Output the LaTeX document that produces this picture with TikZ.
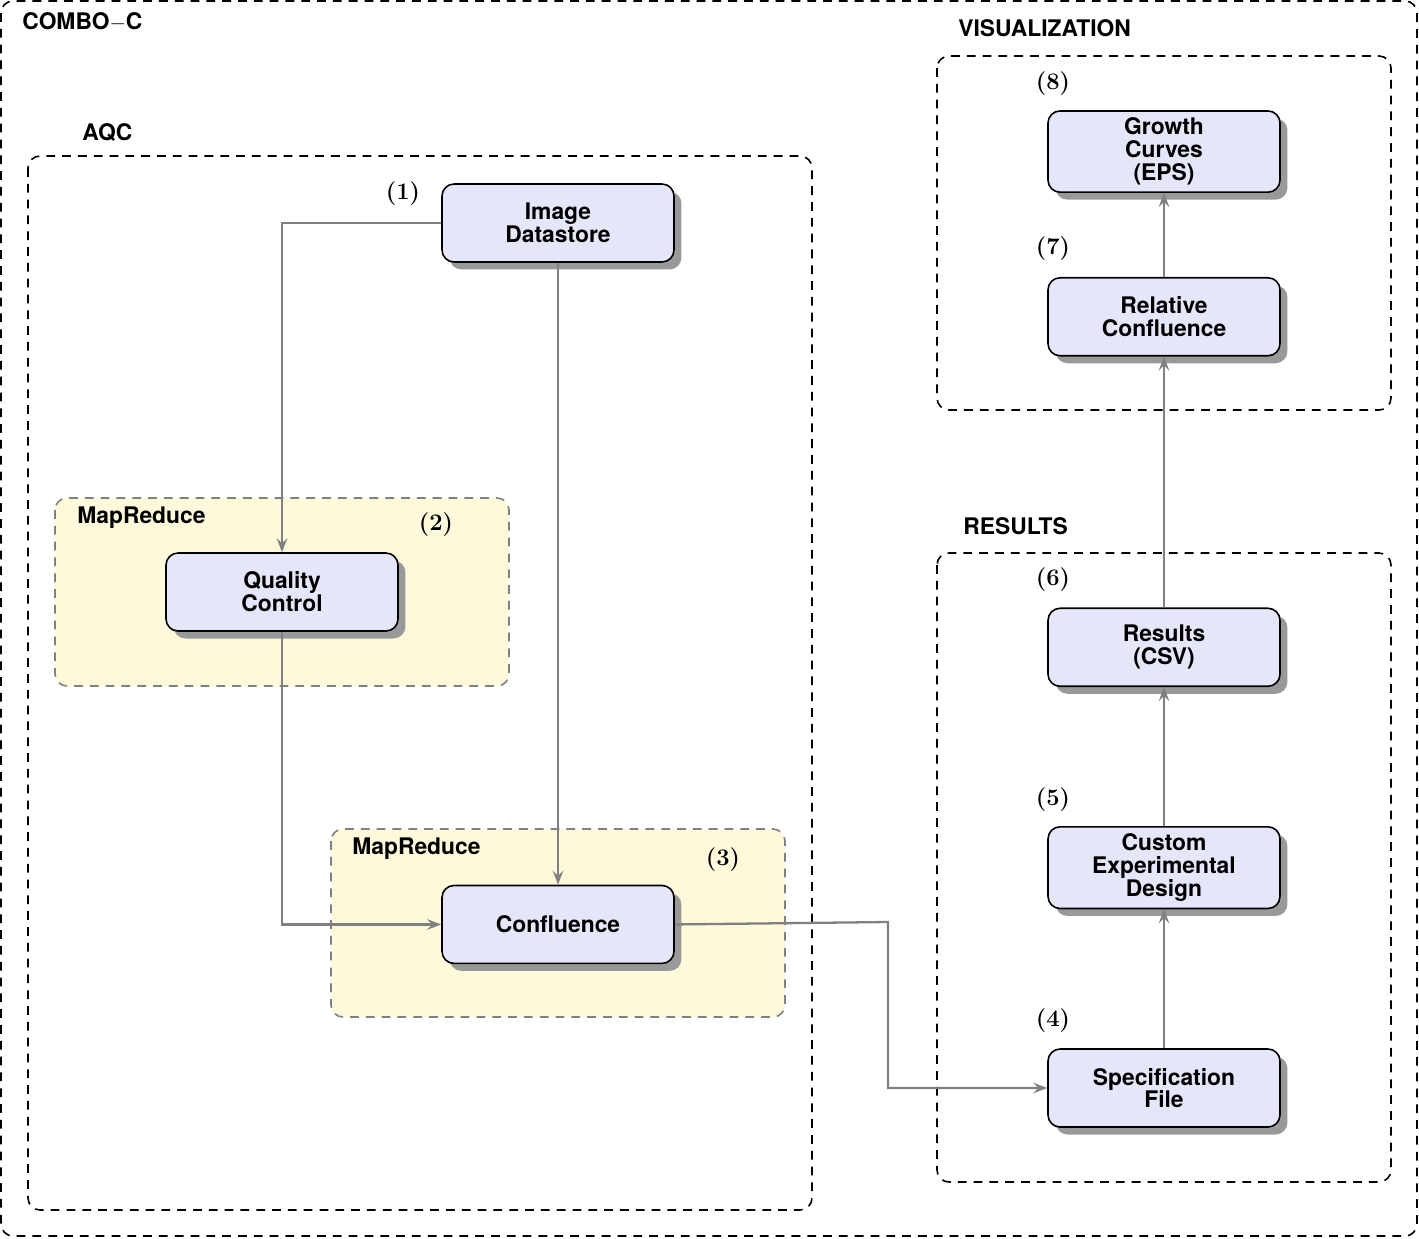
\documentclass[tikz,border=0pt]{standalone}
\usepackage{fontspec}
\setsansfont{TeX Gyre Heros}
\usepackage{tikz}
\usetikzlibrary{positioning,shadows,arrows.meta}

\tikzset{
  step box/.style={draw=black, line width=0.9pt, rounded corners=0.24cm, fill=lavender,
    minimum width=4.64cm, minimum height=1.56cm, align=center, inner sep=4pt,
    font=\sffamily\bfseries\fontsize{13}{13}\selectfont,
    drop shadow={shadow xshift=0.15cm, shadow yshift=-0.15cm, fill=black!40, opacity=1}},
  group box/.style={draw=black, line width=0.9pt, dash pattern=on 5pt off 4pt, rounded corners=0.24cm},
  mr box/.style={draw=black!50, line width=0.9pt, dash pattern=on 5pt off 4pt, rounded corners=0.24cm, fill=mryellow},
  group label/.style={anchor=west, inner sep=0pt, font=\sffamily\bfseries\fontsize{13}{13}\selectfont},
  num label/.style={inner sep=0pt, font=\bfseries\fontsize{13.5}{13.5}\selectfont},
  flow/.style={draw=black!50, line width=1.3pt, -{Stealth[length=8pt,width=6pt,inset=3pt]}}
}
\definecolor{lavender}{HTML}{E6E6FA}
\definecolor{mryellow}{HTML}{FFF9DC}

\begin{document}
\begin{tikzpicture}[x=0.02cm, y=-0.02cm]
  \useasboundingbox (0,0) rectangle (1419,1238);

  % containers
  \draw[group box] (1,1) rectangle (1417,1236);
  \draw[group box] (28,156) rectangle (812,1210);
  \draw[group box] (937,56) rectangle (1391,410);
  \draw[group box] (937,553) rectangle (1391,1182);
  \draw[mr box] (55,498) rectangle (509,686);
  \draw[mr box] (331,829) rectangle (785,1017);

  \node[group label] (combo) at (22,22) {COMBO$-$C};
  \node[group label] (aqc) at (82,133) {AQC};
  \node[group label] (vis) at (958,28) {VISUALIZATION};
  \node[group label] (res) at (963,526) {RESULTS};
  \node[group label] (mr1) at (77,518) {MapReduce};
  \node[group label] (mr2) at (352,849) {MapReduce};

  % AQC steps
  \node[step box] (img) at (558,223) {Image\\Datastore};
  \node[step box, below=12.44cm of img] (conf) {Confluence};
  \node[step box] (qc) at (282,592) {Quality\\Control};

  % results and visualization steps
  \node[step box] (spec) at (1164,1088) {Specification\\File};
  \node[step box, above=2.78cm of spec] (ced) {Custom\\Experimental\\Design};
  \node[step box, above=2.78cm of ced] (csv) {Results\\(CSV)};
  \node[step box, above=5.02cm of csv] (rel) {Relative\\Confluence};
  \node[step box, above=1.68cm of rel] (eps) {Growth\\Curves\\(EPS)};

  % numbers
  \node[num label] (n1) at (403,194) {(1)};
  \node[num label] (n2) at (436,525) {(2)};
  \node[num label] (n3) at (723,860) {(3)};
  \node[num label] (n4) at (1053,1021) {(4)};
  \node[num label] (n5) at (1053,800) {(5)};
  \node[num label] (n6) at (1053,580) {(6)};
  \node[num label] (n7) at (1053,249) {(7)};
  \node[num label] (n8) at (1053,84) {(8)};

  % flows
  \coordinate (elbow) at (888,922);
  \draw[flow] (img.west) -| (qc.north);
  \draw[flow] (img.south) -- (conf.north);
  \draw[flow] (qc.south) |- (conf.west);
  \draw[flow] (conf.east) -- (elbow) |- (spec.west);
  \draw[flow] (spec) -- (ced);
  \draw[flow] (ced) -- (csv);
  \draw[flow] (csv) -- (rel);
  \draw[flow] (rel) -- (eps);
\end{tikzpicture}
\end{document}
